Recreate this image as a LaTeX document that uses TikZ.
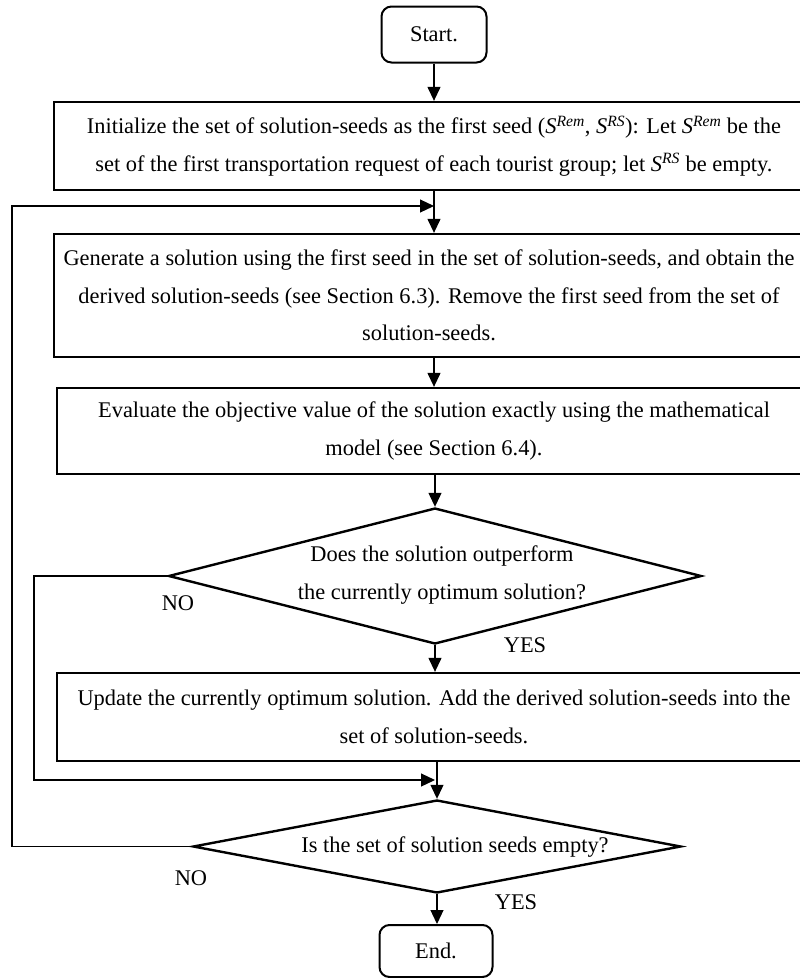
\documentclass[tikz,border=0pt]{standalone}
\usepackage{fontspec}
\setmainfont{Liberation Serif}
\usetikzlibrary{arrows.meta,shapes.geometric}
\newcommand{\Srem}{\textit{S}\textsuperscript{\textit{Rem}}}
\newcommand{\Srs}{\textit{S}\textsuperscript{\textit{RS}}}
\begin{document}
\begin{tikzpicture}[x=1pt,y=-1pt,
  every node/.style={font=\fontsize{22.4}{37.5}\selectfont},
  procbox/.style={draw, line width=2.3pt, rectangle, inner sep=0pt, align=center},
  termbox/.style={draw, line width=2pt, rounded corners=10pt, inner sep=0pt},
  decision/.style={draw, line width=2.4pt, diamond, inner sep=0pt},
  question/.style={inner sep=0pt, align=center},
  tag/.style={inner sep=0pt},
  flow/.style={line width=1.2pt, -{Triangle[length=14pt,width=13pt]}}]

% page frame; the process boxes run off the right edge
\clip (0,0) rectangle (800,978);
\fill[white] (0,0) rectangle (800,978);

% terminals
\node[termbox, minimum width=105pt, minimum height=56pt] (start) at (434,34.5) {Start.};
\node[termbox, minimum width=113pt, minimum height=52pt] (end) at (436,951) {End.};

% process steps
\node[procbox, minimum width=760pt, minimum height=88pt] (b1) at (434,146)
  {Initialize the set of solution-seeds as the first seed (\Srem, \Srs): Let \Srem{} be the\\
   set of the first transportation request of each tourist group; let \Srs{} be empty.};
\node[procbox, minimum width=750pt, minimum height=123pt] (b2) at (429,295.5)
  {Generate a solution using the first seed in the set of solution-seeds, and obtain the\\
   derived solution-seeds (see Section 6.3). Remove the first seed from the set of\\
   solution-seeds.};
\node[procbox, minimum width=754pt, minimum height=86pt] (b3) at (434,431)
  {Evaluate the objective value of the solution exactly using the mathematical\\
   model (see Section 6.4).};
\node[procbox, minimum width=754pt, minimum height=88pt] (b4) at (434,717)
  {Update the currently optimum solution. Add the derived solution-seeds into the\\
   set of solution-seeds.};

% decisions
\node[decision, minimum width=533pt, minimum height=136pt] (d1) at (435,576) {};
\node[question] (q1) at (442,575) {Does the solution outperform\\the currently optimum solution?};
\node[decision, minimum width=488pt, minimum height=93pt] (d2) at (437,846.5) {};
\node[question] (q2) at (455,847) {Is the set of solution seeds empty?};

% branch labels
\node[tag] (no1) at (178,603) {NO};
\node[tag] (yes1) at (525,645) {YES};
\node[tag] (no2) at (191,878) {NO};
\node[tag] (yes2) at (516,902) {YES};

% junction points on the main axis and loop corners
\coordinate (join1) at (434,206);
\coordinate (join2) at (435,780);
\coordinate (outer) at (12,206);
\coordinate (inner) at (34,780);

% main flow
\draw[flow] (start) -- (start |- b1.north);
\draw[flow] (b1.south -| join1) -- (b2.north -| join1);
\draw[flow] (b2.south -| join1) -- (b3.north -| join1);
\draw[flow] (b3.south -| d1.north) -- (d1.north);
\draw[flow] (d1.south) -- (d1.south |- b4.north);
\draw[flow] (b4.south -| d2.north) -- (d2.north);
\draw[flow] (d2.south) -- (d2.south |- end.north);

% NO branches
\draw[flow] (d1.west) -| (inner) -- (join2);
\draw[flow] (d2.west) -| (outer) -- (join1);
\end{tikzpicture}
\end{document}
